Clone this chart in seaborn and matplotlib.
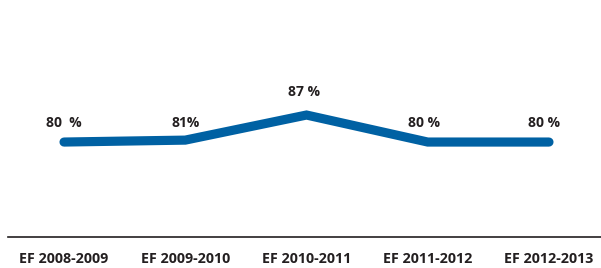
import matplotlib
matplotlib.use("Agg")
import matplotlib.pyplot as plt
import seaborn as sns
import pandas as pd

# data
periods = ["EF 2008-2009", "EF 2009-2010", "EF 2010-2011", "EF 2011-2012", "EF 2012-2013"]
rates = [80, 80.5, 87, 80, 80]
point_labels = ["80  %", "81%", "87 %", "80 %", "80 %"]

df = pd.DataFrame({"pos": range(len(periods)), "rate": rates})

sns.set_style("white")
plt.rcParams["font.family"] = ["Open Sans", "DejaVu Sans"]

fig = plt.figure(figsize=(6.01, 2.68), dpi=100)
ax = fig.add_axes([8 / 601, 31 / 268, 593 / 601, 237 / 268])

sns.lineplot(data=df, x="pos", y="rate", color="#0061a3", linewidth=6.6,
             solid_capstyle="round", solid_joinstyle="miter", sort=False, ax=ax)

# value labels above the line
label_y = [84.9, 84.9, 93.0, 84.9, 84.9]
shifts = [0.0, 0.0, -0.02, -0.03, -0.045]
for i, lab in enumerate(point_labels):
    ax.text(i + shifts[i], label_y[i], lab, ha="center", va="center",
            fontsize=10, fontweight="bold", color="#231f20")

ax.set_xlim(-0.462, 4.429)
ax.set_ylim(55.4, 116.8)
ax.set_xticks(range(len(periods)))
ax.set_xticklabels(periods, fontsize=10.3, fontweight="bold", color="#231f20")
ax.tick_params(axis="x", length=0, pad=11)
ax.set_yticks([])
ax.set_xlabel("")
ax.set_ylabel("")
for s in ["top", "right", "left"]:
    ax.spines[s].set_visible(False)
ax.spines["bottom"].set_color("#231f20")
ax.spines["bottom"].set_linewidth(1.2)

fig.savefig("out.png", dpi=100)
